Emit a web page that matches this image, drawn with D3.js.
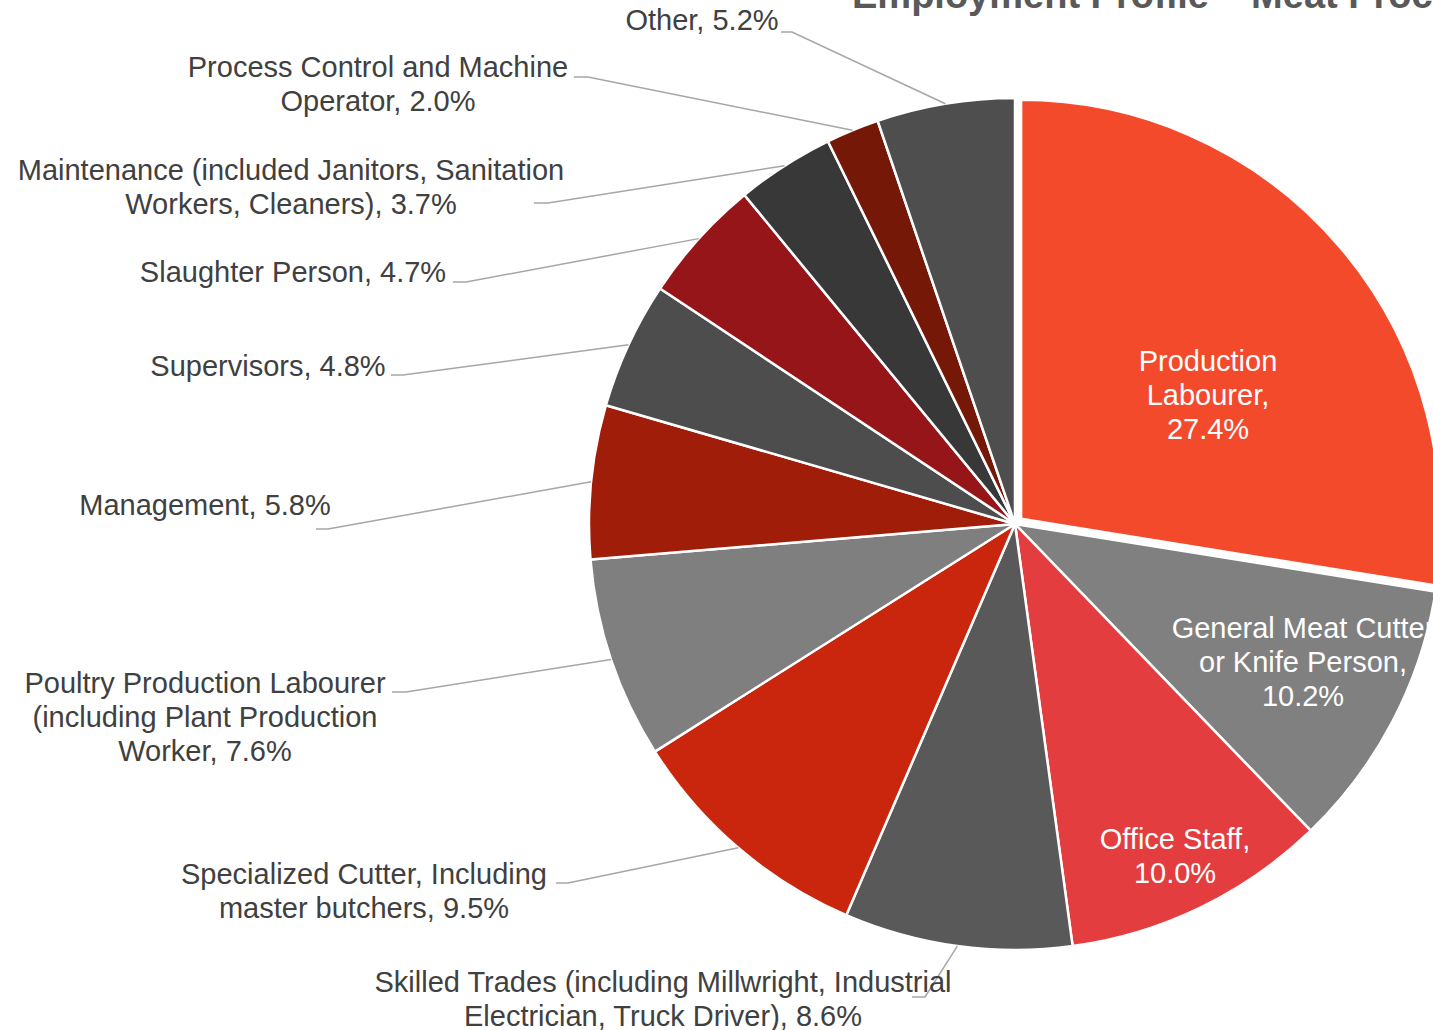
<!DOCTYPE html>
<html lang="en">
<head>
<meta charset="utf-8">
<title>Employment Profile</title>
<script type="text/javascript" src="https://d3js.org/d3.v7.min.js"></script>
<style>
  body { margin: 0; background: #fff; }
  text { font-family: "Liberation Sans", Arial, sans-serif; }
</style>
</head>
<body>
<div id="container"></div>
<script type="text/javascript">
var w = 1433;
var h = 1030;

// data, clockwise from 12 o'clock
var categories = ["Production Labourer", "General Meat Cutter or Knife Person", "Office Staff",
  "Skilled Trades (including Millwright, Industrial Electrician, Truck Driver)",
  "Specialized Cutter, Including master butchers",
  "Poultry Production Labourer (including Plant Production Worker",
  "Management", "Supervisors", "Slaughter Person",
  "Maintenance (included Janitors, Sanitation Workers, Cleaners)",
  "Process Control and Machine Operator", "Other"];
var values = [27.4, 10.2, 10.0, 8.6, 9.5, 7.6, 5.8, 4.8, 4.7, 3.7, 2.0, 5.2];
var colors = ["#f34a2c", "#808080", "#e33d3f", "#595959", "#c9260d", "#7f7f7f",
  "#a01d0a", "#4d4d4d", "#961518", "#383838", "#761808", "#4e4e4e"];

// wrapped label lines, {v} = value
var labelLines = [
  ["Production", "Labourer,", "{v}"],
  ["General Meat Cutter", "or Knife Person,", "{v}"],
  ["Office Staff,", "{v}"],
  ["Skilled Trades (including Millwright, Industrial", "Electrician, Truck Driver), {v}"],
  ["Specialized Cutter, Including", "master butchers, {v}"],
  ["Poultry Production Labourer", "(including Plant Production", "Worker, {v}"],
  ["Management, {v}"],
  ["Supervisors, {v}"],
  ["Slaughter Person, {v}"],
  ["Maintenance (included Janitors, Sanitation", "Workers, Cleaners), {v}"],
  ["Process Control and Machine", "Operator, {v}"],
  ["Other, {v}"]
];
var insideLabel = [true, true, true, false, false, false, false, false, false, false, false, false];

// label placement: text centre x, first line centre y, leader start, elbow x
var labelPos = [
  {x: 1208, y: 361},
  {x: 1303, y: 628},
  {x: 1175, y: 839},
  {x: 663, y: 982, lx: 912, ly: 997, ex: 925},
  {x: 364, y: 874, lx: 556, ly: 883, ex: 568},
  {x: 205, y: 683, lx: 392, ly: 692, ex: 406},
  {x: 205, y: 505, lx: 316, ly: 529, ex: 328},
  {x: 268, y: 366, lx: 391, ly: 375, ex: 403},
  {x: 293, y: 272, lx: 453, ly: 282, ex: 466},
  {x: 291, y: 170, lx: 534, ly: 203, ex: 548},
  {x: 378, y: 67, lx: 574, ly: 77, ex: 588},
  {x: 702, y: 20, lx: 781, ly: 32, ex: 792}
];

var cx = 1015, cy = 524, radius = 426, explode = 8, lineH = 34;

var svg = d3.select("div#container").append("svg")
  .attr("width", w).attr("height", h)
  .style("background-color", "#fff");

var pie = d3.pie().sort(null).value(d => d.value);
var arc = d3.arc().innerRadius(0).outerRadius(radius);
var arcExploded = d3.arc().innerRadius(0).outerRadius(radius - 7);
var edge = d3.arc().innerRadius(radius).outerRadius(radius);

var rows = values.map((v, i) => ({name: categories[i], value: v, i: i}));
var arcs = pie(rows);

var g = svg.append("g").attr("transform", "translate(" + cx + "," + cy + ")");

// slices
g.selectAll("path.slice")
  .data(arcs)
  .enter()
  .append("path")
  .attr("class", "slice")
  .attr("d", d => d.data.i === 0 ? arcExploded(d) : arc(d))
  .attr("fill", d => colors[d.data.i])
  .attr("stroke", "#fff")
  .attr("stroke-width", 2.5)
  .attr("stroke-linejoin", "round")
  .attr("transform", function(d) {
    if (d.data.i !== 0) return null;
    var a = (d.startAngle + d.endAngle) / 2;
    return "translate(" + (Math.sin(a) * explode) + "," + (-Math.cos(a) * explode) + ")";
  });

// leader lines
svg.selectAll("path.leader")
  .data(arcs.filter(d => !insideLabel[d.data.i]))
  .enter()
  .append("path")
  .attr("class", "leader")
  .attr("fill", "none")
  .attr("stroke", "#a6a6a6")
  .attr("stroke-width", 1.5)
  .attr("d", function(d) {
    var p = labelPos[d.data.i];
    var c = edge.centroid(d);
    return "M" + p.lx + "," + p.ly + "L" + p.ex + "," + p.ly + "L" + (cx + c[0]) + "," + (cy + c[1]);
  });

// labels
var fmt = d3.format(".1f");
var labels = svg.selectAll("text.label")
  .data(arcs)
  .enter()
  .append("text")
  .attr("class", "label")
  .attr("text-anchor", "middle")
  .attr("font-size", 29)
  .attr("fill", d => insideLabel[d.data.i] ? "#fff" : "#404040");

labels.selectAll("tspan")
  .data(d => labelLines[d.data.i].map((s, k) => ({s: s.replace("{v}", fmt(d.data.value) + "%"), k: k, i: d.data.i})))
  .enter()
  .append("tspan")
  .attr("x", t => labelPos[t.i].x)
  .attr("y", t => labelPos[t.i].y + t.k * lineH)
  .attr("dy", "0.35em")
  .text(t => t.s);

// title (cropped at top of picture)
svg.append("text")
  .attr("x", 852)
  .attr("y", 8)
  .attr("font-size", 38)
  .attr("font-weight", "bold")
  .attr("fill", "#595959")
  .text("Employment Profile – Meat Processing");
</script>
</body>
</html>
